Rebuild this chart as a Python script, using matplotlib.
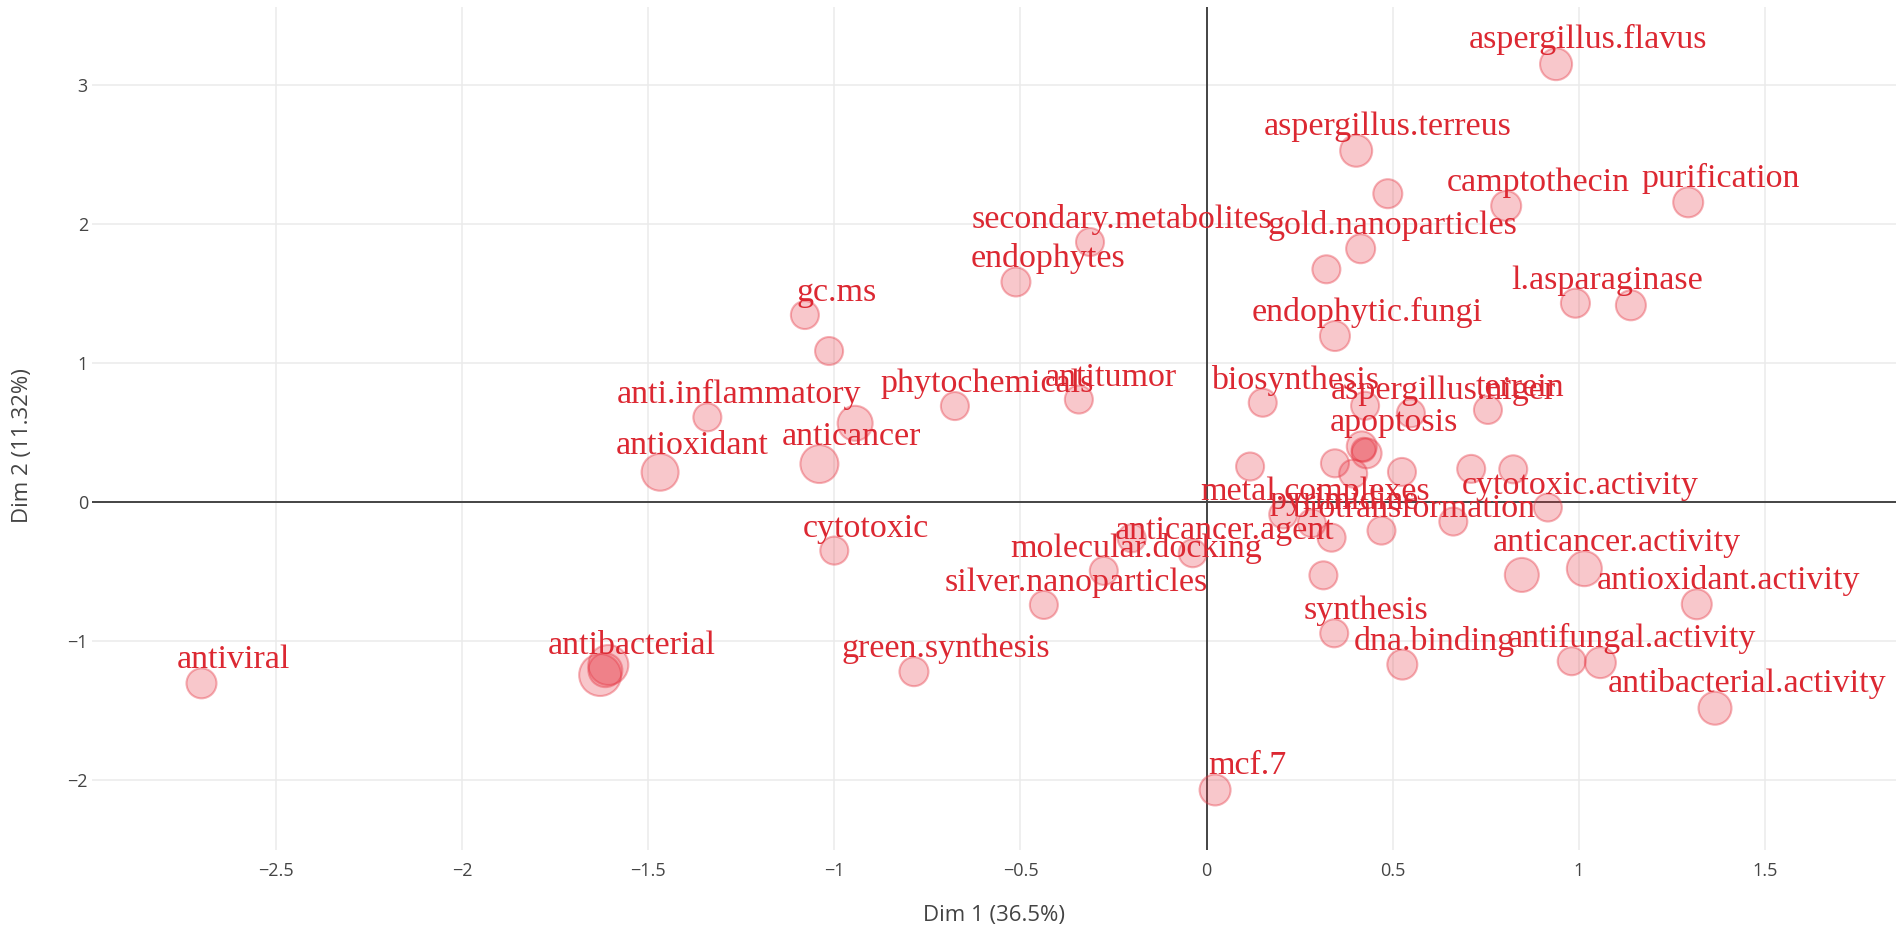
import matplotlib
matplotlib.use('Agg')
import matplotlib.pyplot as plt
import numpy as np

# word coordinates on the first two dimensions
words = ['aspergillus.flavus', 'aspergillus.terreus', 'camptothecin', 'purification',
         'gold.nanoparticles', 'secondary.metabolites', 'endophytes', 'l.asparaginase',
         'endophytic.fungi', 'gc.ms', 'anti.inflammatory', 'antioxidant', 'anticancer',
         'phytochemicals', 'antitumor', 'biosynthesis', 'aspergillus.niger', 'terrein',
         'apoptosis', 'metal.complexes', 'pyrimidine', 'biotransformation',
         'cytotoxic.activity', 'anticancer.agent', 'molecular.docking',
         'silver.nanoparticles', 'cytotoxic', 'anticancer.activity',
         'antioxidant.activity', 'synthesis', 'dna.binding', 'antifungal.activity',
         'antibacterial.activity', 'green.synthesis', 'antibacterial', 'antiviral', 'mcf.7',
         '', '', '', '', '', '', '', '', '', '', '', '', '', '', '', '', '', '', '', '', '', '']
dim1 = [0.939, 0.402, 0.805, 1.294,
        0.414, -0.313, -0.512, 0.991,
        0.345, -1.079, -1.341, -1.468, -1.040,
        -0.676, -0.343, 0.151, 0.549, 0.756,
        0.417, 0.206, 0.283, 0.470,
        0.917, -0.037, -0.276,
        -0.437, -1.000, 1.015,
        1.317, 0.343, 0.526, 1.058,
        1.366, -0.786, -1.629, -2.700, 0.023,
        0.487, 0.322, 1.140, -1.014, -0.944, 0.426, 0.430, 0.422, 0.117, 0.345, 0.394,
        0.525, 0.711, 0.824, 0.336, 0.663, 0.314, -0.201, 0.847, 0.981, -1.607, -1.615]
dim2 = [3.150, 2.527, 2.130, 2.156,
        1.822, 1.870, 1.583, 1.430,
        1.194, 1.345, 0.609, 0.214, 0.273,
        0.690, 0.737, 0.714, 0.638, 0.662,
        0.400, -0.090, -0.153, -0.206,
        -0.040, -0.369, -0.496,
        -0.741, -0.350, -0.480,
        -0.736, -0.945, -1.170, -1.156,
        -1.484, -1.221, -1.245, -1.305, -2.072,
        2.218, 1.674, 1.415, 1.086, 0.566, 0.692, 0.350, 0.375, 0.255, 0.278, 0.204,
        0.216, 0.238, 0.235, -0.257, -0.141, -0.528, -0.261, -0.525, -1.146, -1.173, -1.210]
# marker diameters in pixels
sizes = [32, 32, 30, 30,
         29, 28, 29, 29,
         30, 28, 28, 37, 38,
         28, 28, 28, 28, 28,
         30, 28, 28, 28,
         28, 28, 28,
         28, 28, 35,
         30, 28, 30, 31,
         33, 29, 42, 30, 31,
         29, 28, 30, 28, 35, 28, 30, 24, 28, 28, 28,
         28, 28, 28, 28, 28, 28, 28, 34, 28, 40, 34]

x_ticks = [-2.5, -2, -1.5, -1, -0.5, 0, 0.5, 1, 1.5]
y_ticks = [-2, -1, 0, 1, 2, 3]

DPI = 100
fig = plt.figure(figsize=(19.02, 9.25), dpi=DPI)
ax = fig.add_axes([0.0484, 0.0811, 0.9484, 0.9113])

red = '#dc2832'
d_pt = np.array(sizes) * 72.0 / DPI
ax.scatter(dim1, dim2, s=d_pt ** 2, facecolor=(0.90, 0.20, 0.25, 0.27),
           edgecolor=(0.90, 0.20, 0.25, 0.38), linewidths=1.5, zorder=3)

for w, x, y, d in zip(words, dim1, dim2, sizes):
    if not w:
        continue
    ax.annotate(w, (x, y), xytext=(32, d / 2.0), textcoords='offset pixels',
                ha='center', va='baseline', color=red, fontsize=24.5,
                family='Liberation Serif', zorder=4)

ax.set_xlim(-2.994, 1.852)
ax.set_ylim(-2.504, 3.561)

ax.axhline(0, color='#444444', lw=1.4, zorder=2)
ax.axvline(0, color='#444444', lw=1.4, zorder=2)

ax.set_xticks(x_ticks)
ax.set_xticklabels(['{:g}'.format(t).replace('-', '\u2212') for t in x_ticks])
ax.set_yticks(y_ticks)
ax.set_yticklabels(['{:g}'.format(t).replace('-', '\u2212') for t in y_ticks])
ax.tick_params(length=0, labelsize=13, labelcolor='#444444')
ax.tick_params(axis='x', pad=9)
ax.tick_params(axis='y', pad=3)
for lab in ax.get_xticklabels() + ax.get_yticklabels():
    lab.set_family('Open Sans')

ax.grid(True, color='#ebebeb', lw=1.1, zorder=0)
ax.set_axisbelow(True)
for sp in ax.spines.values():
    sp.set_visible(False)

ax.set_xlabel('Dim 1 (36.5%)', fontsize=16, color='#444444', family='Open Sans')
ax.set_ylabel('Dim 2 (11.32%)', fontsize=16, color='#444444', family='Open Sans')
ax.xaxis.set_label_coords(0.5, -0.065)
ax.yaxis.set_label_coords(-0.033, 0.48)

fig.savefig('out.png', dpi=DPI)
